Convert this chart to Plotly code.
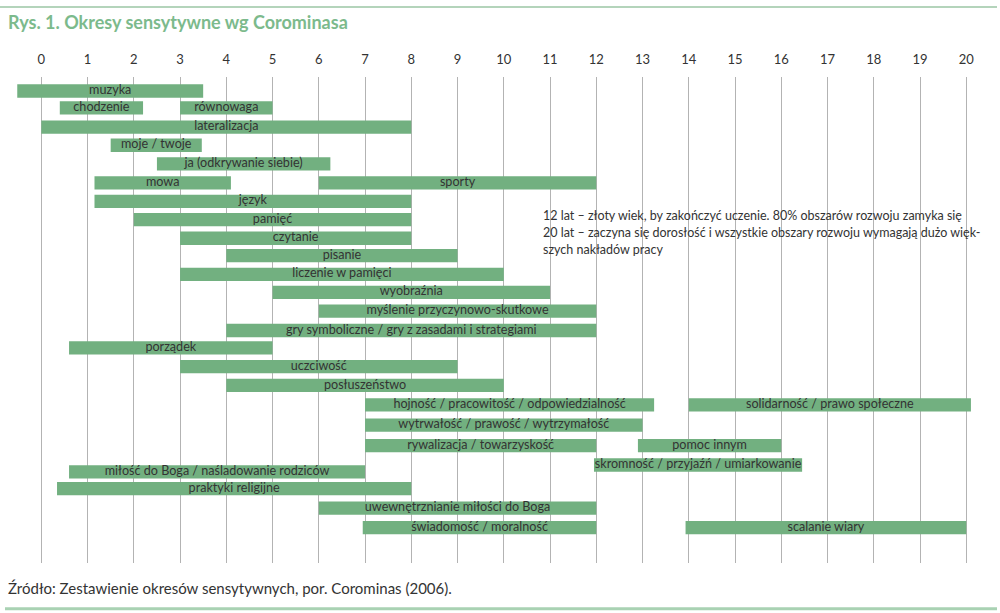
import plotly.graph_objects as go

# ---- data ----
labels = [
    "muzyka", "chodzenie", "równowaga", "lateralizacja", "moje / twoje",
    "ja (odkrywanie siebie)", "mowa", "sporty", "język", "pamięć", "czytanie",
    "pisanie", "liczenie w pamięci", "wyobraźnia", "myślenie przyczynowo-skutkowe",
    "gry symboliczne / gry z zasadami i strategiami", "porządek", "uczciwość",
    "posłuszeństwo", "hojność / pracowitość / odpowiedzialność",
    "solidarność / prawo społeczne", "wytrwałość / prawość / wytrzymałość",
    "rywalizacja / towarzyskość", "pomoc innym", "skromność / przyjaźń / umiarkowanie",
    "miłość do Boga / naśladowanie rodziców", "praktyki religijne",
    "uwewnętrznianie miłości do Boga", "świadomość / moralność", "scalanie wiary",
]
start_age = [
    -0.52, 0.4, 3.0, 0.0, 1.5,
    2.5, 1.15, 6.0, 1.15, 2.0, 3.0,
    4.0, 3.0, 5.0, 6.0,
    4.0, 0.6, 3.0,
    4.0, 7.0,
    14.0, 7.0,
    7.0, 12.9, 11.95,
    0.6, 0.34,
    6.0, 6.95, 13.93,
]
end_age = [
    3.5, 2.2, 5.0, 8.0, 3.47,
    6.25, 4.1, 12.0, 8.0, 8.0, 8.0,
    9.0, 10.0, 11.0, 12.0,
    12.0, 5.0, 9.0,
    10.0, 13.25,
    20.1, 13.0,
    12.0, 16.0, 16.45,
    7.0, 8.0,
    12.0, 12.0, 20.0,
]
# row (lane) of each bar, counted from the top
lane = [
    0.0, 0.93, 0.93, 1.99, 2.98,
    4.0, 5.05, 5.05, 6.06, 7.07, 8.09,
    9.05, 10.07, 11.06, 12.1,
    13.16, 14.11, 15.15,
    16.18, 17.24,
    17.24, 18.36,
    19.48, 19.48, 20.55,
    20.93, 21.85,
    22.92, 23.99, 23.99,
]
age_ticks = list(range(0, 21))

title_text = "Rys. 1. Okresy sensytywne wg Corominasa"
note_lines = [
    "12 lat – złoty wiek, by zakończyć uczenie. 80% obszarów rozwoju zamyka się",
    "20 lat – zaczyna się dorosłość i wszystkie obszary rozwoju wymagają dużo więk-",
    "szych nakładów pracy",
]
source_text = "Źródło: Zestawienie okresów sensytywnych, por. Corominas (2006)."

# ---- styles ----
BAR = "#72b080"
GREEN_LINE = "#6aaa78"
LIGHT_LINE = "#a9d2b3"
TEXT = "#333333"
FONT = "Lato"

durations = [e - s for s, e in zip(start_age, end_age)]
mids = [(s + e) / 2 for s, e in zip(start_age, end_age)]

fig = go.Figure()
fig.add_trace(go.Bar(
    x=durations, base=start_age, y=lane, orientation="h",
    width=0.73, marker=dict(color=BAR, line=dict(width=0)),
    hovertext=labels, showlegend=False,
))
fig.add_trace(go.Scatter(
    x=mids, y=lane, mode="text", text=labels,
    textfont=dict(family=FONT, size=12.6, color=TEXT),
    textposition="middle center", cliponaxis=False, showlegend=False,
    hoverinfo="skip",
))

W, H = 1000, 613
L, R, T, B = 10, 10, 77, 50
px_per_year = 46.25
x0_px = 41.3
xr = [(L - x0_px) / px_per_year, (W - R - x0_px) / px_per_year]
row_px = 18.2
row0_px = 91
yr = [(H - B - row0_px) / row_px, (T - row0_px) / row_px]

plot_w = W - L - R
plot_h = H - T - B


def px_to_paper_x(px):
    return (px - L) / plot_w


def px_to_paper_y(py):
    return (H - B - py) / plot_h


shapes = [
    dict(type="line", xref="paper", yref="paper",
         x0=px_to_paper_x(0), x1=px_to_paper_x(997),
         y0=px_to_paper_y(7), y1=px_to_paper_y(7),
         line=dict(color=GREEN_LINE, width=1.2)),
    dict(type="line", xref="paper", yref="paper",
         x0=px_to_paper_x(5), x1=px_to_paper_x(997),
         y0=px_to_paper_y(608.8), y1=px_to_paper_y(608.8),
         line=dict(color=LIGHT_LINE, width=3)),
]

annotations = [
    dict(text=title_text, xref="paper", yref="paper",
         x=px_to_paper_x(6), y=px_to_paper_y(22), xanchor="left", yanchor="middle",
         showarrow=False,
         font=dict(family=FONT, size=18, color="#7cba8c", weight="bold")),
    dict(text=source_text, xref="paper", yref="paper",
         x=px_to_paper_x(6), y=px_to_paper_y(588), xanchor="left", yanchor="middle",
         showarrow=False, font=dict(family=FONT, size=15, color=TEXT)),
]
for i, line in enumerate(note_lines):
    annotations.append(dict(
        text=line, xref="x", yref="paper",
        x=(541 - x0_px) / px_per_year, y=px_to_paper_y(215 + 17 * i),
        xanchor="left", yanchor="middle", showarrow=False,
        font=dict(family=FONT, size=12.5, color=TEXT)))

fig.update_layout(
    width=W, height=H,
    margin=dict(l=L, r=R, t=T, b=B, autoexpand=False),
    paper_bgcolor="white", plot_bgcolor="white",
    barmode="overlay",
    shapes=shapes, annotations=annotations,
    xaxis=dict(
        range=xr, side="top", tickmode="array", tickvals=age_ticks,
        ticktext=[str(t) for t in age_ticks],
        showgrid=True, gridcolor="#b3b3b3", gridwidth=1,
        zeroline=False, showline=False,
        ticks="outside", ticklen=7, tickcolor="rgba(0,0,0,0)",
        tickfont=dict(family=FONT, size=13, color=TEXT),
        fixedrange=True,
    ),
    yaxis=dict(range=yr, visible=False, showgrid=False, zeroline=False,
               fixedrange=True),
)

fig.write_html(
    "out.html",
    config={"displayModeBar": False},
    post_script="document.body.style.margin='0';document.body.style.padding='0';",
)
